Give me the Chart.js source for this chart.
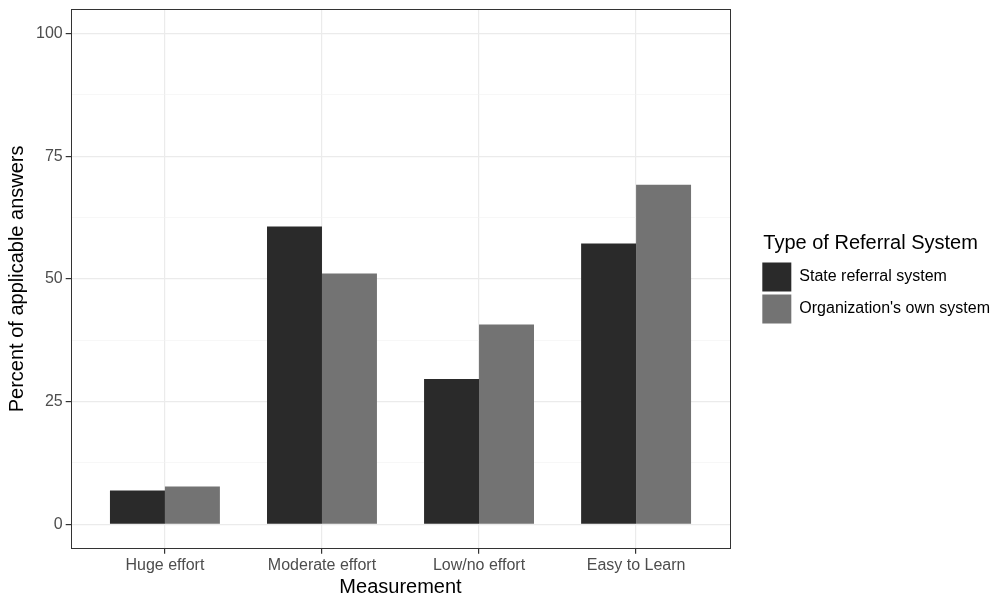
<!DOCTYPE html>
<html>
<head>
<meta charset="utf-8">
<script src="https://cdn.jsdelivr.net/npm/chart.js@4.4.0/dist/chart.umd.min.js"></script>
<style>
  body { margin: 0; background: #fff; }
</style>
</head>
<body>
<canvas id="myChart" width="995" height="597"></canvas>
<script>
const categories = ['Huge effort', 'Moderate effort', 'Low/no effort', 'Easy to Learn'];
const stateValues = [6.9, 60.7, 29.6, 57.2];
const ownValues = [7.7, 51.1, 40.7, 69.2];
const yTicks = [0, 25, 50, 75, 100];
const yMinorTicks = [12.5, 37.5, 62.5, 87.5];

const FONT = "'Liberation Sans', Arial, sans-serif";
const LEGEND_GAP = 24;   // extra room between panel and legend
const LEGEND_DX = 5, LEGEND_DY = -25;
const TITLE_DX = 4, TITLE_DY = 4;

// panel frame like ggplot's theme_bw, plus legend placement tweaks
const panelBorder = {
    id: 'panelBorder',
    afterInit(chart) {
        const legend = chart.legend;
        const fit = legend.fit.bind(legend);
        legend.fit = function () {
            fit();
            this.width += LEGEND_GAP;
        };
        const draw = legend.draw.bind(legend);
        legend.draw = function (area) {
            chart.ctx.save();
            chart.ctx.translate(LEGEND_GAP + LEGEND_DX, LEGEND_DY);
            draw(area);
            chart.ctx.restore();
        };
        const titleFn = ['_drawTitle', 'drawTitle'].find(n => typeof legend[n] === 'function');
        if (titleFn) {
            const drawTitle = legend[titleFn].bind(legend);
            legend[titleFn] = function () {
                chart.ctx.save();
                chart.ctx.translate(TITLE_DX, TITLE_DY);
                drawTitle();
                chart.ctx.restore();
            };
        }
    },
    afterDatasetsDraw(chart) {
        const a = chart.chartArea;
        const ctx = chart.ctx;
        ctx.save();
        ctx.strokeStyle = '#333333';
        ctx.lineWidth = 1;
        ctx.strokeRect(Math.round(a.left) + 0.5, Math.round(a.top) + 0.5,
            Math.round(a.right - a.left) - 1, Math.round(a.bottom - a.top) - 1);
        ctx.restore();
    }
};

function toPoints(values) {
    return values.map((v, i) => ({ x: i + 1, y: v }));
}

function isMajor(v) {
    return yTicks.includes(v);
}

const ctx = document.getElementById('myChart').getContext('2d');
const chart = new Chart(ctx, {
    type: 'bar',
    data: {
        datasets: [{
            label: 'State referral system',
            data: toPoints(stateValues),
            backgroundColor: '#2a2a2a',
            borderWidth: 0
        }, {
            label: "Organization's own system",
            data: toPoints(ownValues),
            backgroundColor: '#737373',
            borderWidth: 0
        }]
    },
    options: {
        responsive: false,
        animation: false,
        categoryPercentage: 0.7,
        barPercentage: 1.0,
        layout: {
            padding: { top: 9, left: 5, bottom: 0, right: 0 }
        },
        scales: {
            x: {
                type: 'linear',
                min: 0.4,
                max: 4.6,
                offset: false,
                afterBuildTicks: (scale) => {
                    scale.ticks = categories.map((c, i) => ({ value: i + 1 }));
                },
                grid: {
                    offset: false,
                    color: '#ebebeb',
                    lineWidth: 1.2,
                    tickLength: 5,
                    tickColor: '#333333'
                },
                border: { display: false },
                ticks: {
                    callback: (v) => categories[v - 1],
                    color: '#4d4d4d',
                    font: { family: FONT, size: 16 },
                    padding: 2,
                    maxRotation: 0,
                    autoSkip: false
                },
                title: {
                    display: true,
                    text: 'Measurement',
                    color: '#000',
                    font: { family: FONT, size: 20, lineHeight: 1.0 },
                    padding: { top: 0, bottom: 0 }
                }
            },
            y: {
                min: -5,
                max: 105,
                afterBuildTicks: (scale) => {
                    scale.ticks = yTicks.concat(yMinorTicks).sort((a, b) => a - b).map(v => ({ value: v }));
                },
                afterFit: (scale) => {
                    scale.paddingTop = 0;
                },
                grid: {
                    color: (c) => isMajor(c.tick.value) ? '#ebebeb' : '#f2f2f2',
                    lineWidth: (c) => isMajor(c.tick.value) ? 1.2 : 0.6,
                    tickLength: 5,
                    tickColor: (c) => isMajor(c.tick.value) ? '#333333' : 'rgba(0,0,0,0)'
                },
                border: { display: false },
                ticks: {
                    callback: (v) => isMajor(v) ? String(v) : '',
                    color: '#4d4d4d',
                    font: { family: FONT, size: 16 },
                    padding: 3
                },
                title: {
                    display: true,
                    text: 'Percent of applicable answers',
                    color: '#000',
                    font: { family: FONT, size: 20 },
                    padding: { top: 0, bottom: 4 }
                }
            }
        },
        plugins: {
            legend: {
                position: 'right',
                align: 'center',
                title: {
                    display: true,
                    position: 'start',
                    text: 'Type of Referral System',
                    color: '#000',
                    font: { family: FONT, size: 20 },
                    padding: { top: 0, bottom: 6 }
                },
                labels: {
                    boxWidth: 29,
                    boxHeight: 29,
                    padding: 3,
                    color: '#000',
                    font: { family: FONT, size: 16 }
                }
            },
            tooltip: { enabled: false }
        }
    },
    plugins: [panelBorder]
});
</script>
</body>
</html>
